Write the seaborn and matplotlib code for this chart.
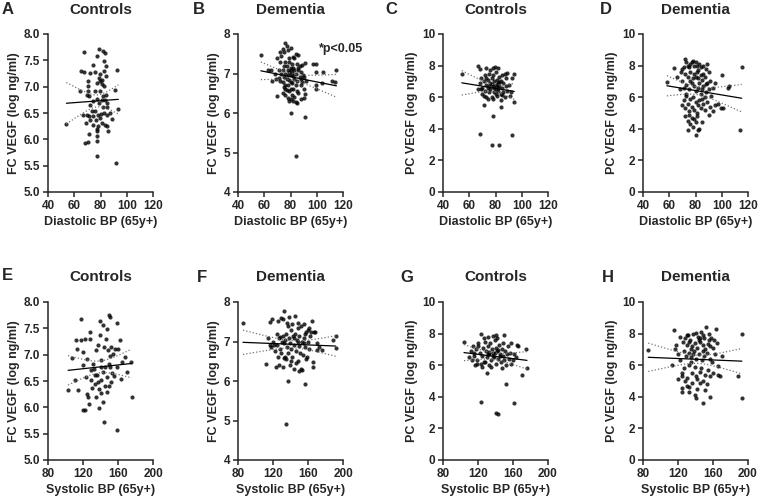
import numpy as np
import seaborn as sns
import matplotlib.pyplot as plt

# ---- data: (BP, log VEGF) pairs ----
# A: controls, diastolic vs FC VEGF
ctrl_dia_fc = [(67.6, 7.66), (78.8, 7.72), (81.6, 7.67), (83.4, 7.64), (77.0, 7.58), (82.4, 7.48),
               (74.0, 7.42), (84.2, 7.39), (92.9, 7.32), (65.5, 7.29), (67.6, 7.28), (71.9, 7.26),
               (75.8, 7.27), (79.6, 7.25), (83.0, 7.29), (78.7, 7.16), (81.0, 7.13), (79.6, 7.10),
               (84.2, 7.20), (70.6, 7.10), (77.0, 7.07), (81.3, 7.06), (70.1, 7.02), (82.6, 7.01),
               (91.1, 6.94), (75.8, 6.91), (79.6, 6.91), (69.4, 6.85), (71.2, 6.82), (82.1, 6.83),
               (84.2, 6.85), (77.6, 6.77), (81.0, 6.75), (83.4, 6.75), (74.5, 6.72), (78.8, 6.69),
               (85.2, 6.69), (71.9, 6.66), (84.7, 6.61), (82.1, 6.61), (93.6, 6.58), (66.8, 6.47),
               (69.9, 6.47), (73.2, 6.53), (75.8, 6.54), (77.8, 6.47), (80.1, 6.48), (82.6, 6.50),
               (84.7, 6.47), (71.2, 6.44), (74.5, 6.44), (79.6, 6.41), (76.5, 6.37), (87.3, 6.50),
               (88.8, 6.39), (71.9, 6.36), (68.7, 6.31), (54.0, 6.30), (74.0, 6.28), (78.3, 6.25),
               (81.0, 6.31), (83.4, 6.28), (84.7, 6.25), (85.5, 6.16), (77.6, 6.20), (70.9, 6.11),
               (77.6, 6.15), (77.6, 6.06), (77.6, 5.96), (68.1, 5.93), (70.1, 5.94), (77.0, 5.69),
               (91.6, 5.55), (70.6, 6.92), (64.3, 6.92)]

# B: dementia, diastolic vs FC VEGF
dem_dia_fc = [(57.4, 7.46), (80, 6.0), (91, 5.9), (84, 4.92), (99.5, 7.24), (97.5, 7.24), (105, 7.03),
              (99.5, 7.03), (104, 6.75), (99.5, 6.71), (99.5, 6.62), (111.5, 6.8), (115, 7.1),
              (114, 6.78), (91, 6.47), (91, 7.27), (89.8, 6.97), (88.5, 6.78),
              (74, 7.62), (76, 7.78), (77, 7.7), (75, 7.55), (78, 7.6), (80, 7.65), (73, 7.45), (82, 7.42),
              (84, 7.5), (86, 7.48), (83, 7.38), (70, 7.38), (72, 7.3), (76, 7.3), (79, 7.28), (81, 7.25),
              (85, 7.25), (87, 7.2), (89, 7.22), (75, 7.2), (77, 7.18), (80, 7.15), (82, 7.13), (78, 7.1),
              (80, 7.1), (83, 7.08), (86, 7.1), (88, 7.05), (74, 7.1), (71, 7.08), (79, 7.05), (81, 7.02),
              (84, 7.0), (76, 7.0), (73, 6.98), (78, 6.96), (80, 6.95), (82, 6.93), (87, 6.92), (90, 6.9),
              (75, 6.9), (71, 6.88), (69, 6.85), (77, 6.85), (79, 6.83), (83, 6.85), (85, 6.82), (72, 6.8),
              (74, 6.78), (80, 6.78), (81, 6.75), (76, 6.72), (78, 6.7), (84, 6.72), (88, 6.7), (75, 6.65),
              (80, 6.62), (82, 6.6), (77, 6.58), (79, 6.55), (85, 6.55), (86, 6.5), (74, 6.5), (76, 6.45),
              (81, 6.45), (83, 6.4), (78, 6.38), (80, 6.35), (82, 6.3), (84, 6.28), (85, 6.25), (79, 6.3),
              (70, 6.42), (88, 6.35), (90, 6.38), (76, 6.6), (92, 6.8), (68, 7.0), (66, 6.82), (63, 7.1),
              (65, 7.1), (72, 7.55), (79, 7.4), (86, 7.15), (88, 6.85), (90, 6.6)]

# C: controls, diastolic vs PC VEGF
ctrl_dia_pc = [(54.3, 7.44), (66.6, 7.95), (68.1, 7.76), (72.7, 7.86), (78.2, 7.82), (79.5, 7.89),
               (82, 7.85), (88.5, 7.55), (94.1, 7.5), (92.3, 7.23), (68.1, 3.7), (77.3, 2.96), (82.4, 3.0),
               (92.3, 3.6), (78.2, 4.82), (94.3, 5.67), (71.2, 5.5), (83.9, 5.41),
               (67, 6.5), (68, 6.9), (69, 7.2), (70, 6.6), (70, 6.2), (71, 7.0), (72, 6.4), (72, 7.4), (73, 6.8),
               (73, 6.0), (74, 6.6), (74, 7.1), (75, 6.3), (75, 7.5), (76, 6.9), (76, 6.5), (77, 7.2), (77, 6.0),
               (78, 6.7), (78, 7.4), (79, 6.3), (79, 7.0), (80, 6.8), (80, 6.5), (80, 7.6), (81, 6.1), (81, 7.1),
               (82, 6.9), (82, 6.4), (83, 7.3), (83, 6.7), (84, 6.2), (84, 7.0), (85, 6.6), (85, 7.4), (86, 6.3),
               (86, 6.9), (87, 6.0), (88, 6.7), (88, 7.2), (89, 6.4), (90, 6.8), (91, 6.1), (92, 6.3), (76, 7.7),
               (78, 5.9), (80, 6.2), (82, 6.6), (74, 5.9), (71, 6.1), (84, 5.8), (79, 6.6), (81, 6.75),
               (77, 6.85), (83, 6.95), (75, 6.7), (85, 6.15), (87, 7.5), (69, 6.5), (73, 7.2)]

# D: dementia, diastolic vs PC VEGF
dem_dia_pc = [(58.2, 6.98), (63.7, 7.86), (115.2, 7.9), (114.2, 3.95), (100.4, 7.4), (104.9, 6.6),
              (105.6, 6.7), (99.8, 5.33), (101, 5.33),
              (72, 8.4), (73, 8.2), (75, 7.9), (76, 8.1), (78, 8.3), (80, 8.2), (81, 8.0), (82, 7.7), (83, 8.1),
              (84, 7.9), (86, 8.0), (88, 7.8), (90, 7.6), (72, 7.5), (74, 7.3), (76, 7.6), (78, 7.2), (79, 7.5),
              (80, 7.3), (81, 7.6), (82, 7.2), (84, 7.4), (85, 7.1), (87, 7.3), (89, 6.9), (91, 7.0), (70, 7.0),
              (71, 6.6), (73, 6.8), (75, 6.5), (77, 6.9), (79, 6.7), (80, 6.4), (82, 6.6), (83, 6.9), (85, 6.5),
              (86, 6.7), (88, 6.3), (90, 6.5), (92, 6.1), (70, 5.5), (71, 5.8), (72, 5.3), (73, 6.1), (74, 5.6),
              (75, 5.1), (76, 5.9), (77, 5.4), (78, 6.0), (79, 5.2), (80, 5.7), (81, 5.0), (82, 5.5), (83, 5.8),
              (84, 5.3), (85, 5.9), (86, 5.6), (87, 5.2), (89, 5.7), (91, 5.4), (93, 5.1), (72, 4.8), (74, 4.5),
              (75, 4.9), (76, 4.3), (77, 4.7), (78, 4.1), (79, 4.6), (80, 4.4), (81, 4.8), (83, 4.0), (85, 4.4),
              (74, 3.9), (80, 3.6), (82, 3.9), (84, 6.2), (87, 6.0), (95, 5.5), (93, 6.6), (89, 8.1),
              (77, 8.25), (79, 7.95), (86, 7.45), (88, 6.85), (73, 6.2), (95, 6.9), (97, 5.6), (90, 4.9),
              (68, 6.5), (70, 7.8), (66, 7.3), (69, 7.6), (71, 7.9), (74, 8.0), (76, 7.0)]

# E: controls, systolic vs FC VEGF
ctrl_sys_fc = [(103, 6.32), (107.9, 6.93), (110.6, 6.51), (111.7, 7.28), (113.2, 7.11), (114.4, 6.32),
               (118.2, 7.27), (120.1, 7.05), (120.1, 6.80), (122, 7.30), (123.2, 6.57), (120.1, 5.95),
               (122, 5.94), (124.7, 6.92), (124.7, 6.26), (125.8, 6.19), (126.6, 6.07), (127.8, 7.43),
               (128.5, 7.29), (129.7, 6.70), (129.7, 6.51), (130.8, 6.37), (131.6, 6.83), (132.3, 6.73),
               (133.5, 6.61), (133.5, 6.45), (134.6, 6.19), (135.4, 7.08), (136.2, 6.61), (137.3, 7.18),
               (137.3, 6.48), (138.5, 6.35), (138.5, 5.99), (139.2, 7.37), (140, 6.77), (140.4, 6.51),
               (141.1, 6.89), (141.1, 6.27), (142.3, 6.10), (143, 6.67), (143.8, 7.15), (143.8, 5.72),
               (145, 6.77), (145, 6.41), (146.1, 7.30), (146.9, 6.29), (147.6, 6.57), (148.8, 7.08),
               (149.5, 6.83), (149.9, 6.41), (150.7, 6.97), (151.4, 6.77), (151.8, 6.48), (152.5, 7.15),
               (153.7, 6.65), (154.5, 7.02), (155.2, 6.60), (156.4, 7.11), (158.3, 6.76), (160.2, 7.11),
               (162.2, 7.27), (163, 6.54), (164.1, 6.86), (159, 5.57), (168, 6.95), (169.8, 6.67),
               (174.4, 6.86), (175.5, 6.19), (117.4, 7.68), (139.2, 7.63), (150.7, 7.71), (149.9, 7.75),
               (158.3, 7.60), (143, 7.56), (147.6, 7.49)]

# F: dementia, systolic vs FC VEGF
dem_sys_fc = [(85.7, 7.47), (134.6, 4.92), (137.3, 6.0), (156.4, 5.92), (112.5, 6.43), (188.9, 7.05),
              (191.6, 7.13), (191.6, 6.84), (176, 6.79), (169.8, 6.79), (166.7, 7.24), (164, 7.53),
              (165.2, 6.36), (166, 6.47),
              (117, 7.5), (119, 7.57), (126, 7.52), (129, 7.6), (131, 7.58), (133, 7.78), (136, 7.48),
              (138, 7.62), (142, 7.44), (145, 7.65), (149, 7.48), (152, 7.38), (155, 7.45), (158, 7.25),
              (160, 7.3), (163, 7.25), (168, 7.25), (114, 7.1), (116, 6.9), (118, 6.85), (120, 7.0),
              (121, 6.92), (124, 7.2), (125, 6.9), (127, 7.1), (128, 6.8), (129, 6.72), (130, 7.0),
              (131, 7.15), (132, 6.58), (133, 6.95), (134, 7.05), (135, 7.2), (136, 6.85), (137, 6.7),
              (138, 7.1), (139, 6.95), (140, 7.3), (141, 6.8), (142, 6.6), (143, 7.15), (144, 6.9),
              (145, 7.2), (146, 6.75), (147, 7.05), (148, 6.5), (149, 6.98), (150, 7.15), (151, 6.7),
              (152, 6.3), (153, 7.0), (154, 6.65), (155, 7.1), (156, 6.85), (157, 7.2), (158, 6.55),
              (160, 7.0), (161, 6.8), (162, 7.15), (123, 6.35), (127, 6.4), (131, 6.35), (135, 6.55),
              (139, 6.4), (144, 6.3), (150, 6.25), (153, 6.28), (159, 6.6), (140, 6.5), (146, 6.45),
              (126, 6.6), (122, 6.75), (134, 6.6), (148, 7.35), (137, 7.38), (128, 7.12), (144, 7.1),
              (150, 6.88), (155, 6.95), (161, 7.35), (170, 6.95), (172, 6.85)]

# G: controls, systolic vs PC VEGF
ctrl_sys_pc = [(104, 7.44), (123, 7.95), (127, 7.75), (131, 7.78), (137, 7.85), (140, 7.88), (150, 7.88),
               (158, 7.4), (166, 7.2), (175, 7.0), (123, 3.7), (140, 2.98), (143, 2.92), (161, 3.58),
               (152, 4.8), (176, 5.85), (130, 5.5), (170, 5.4),
               (110, 6.5), (112, 6.9), (114, 7.2), (115, 6.6), (116, 6.0), (118, 7.0), (119, 6.3), (120, 7.4),
               (122, 6.8), (123, 6.1), (124, 6.6), (126, 7.1), (127, 6.2), (128, 7.5), (129, 6.9), (130, 6.5),
               (131, 7.2), (132, 6.0), (133, 6.7), (134, 7.4), (135, 6.3), (136, 7.0), (137, 6.8), (138, 6.5),
               (139, 7.6), (140, 6.1), (141, 7.1), (142, 6.9), (143, 6.4), (144, 7.3), (145, 6.7), (146, 6.2),
               (147, 7.0), (148, 6.6), (149, 7.4), (150, 6.3), (151, 6.9), (152, 6.0), (153, 6.7), (154, 7.2),
               (155, 6.4), (157, 6.8), (158, 6.1), (160, 6.3), (142, 7.7), (135, 5.9), (128, 6.2), (145, 6.6),
               (125, 5.9), (119, 6.1), (147, 5.8), (137, 6.6), (139, 6.75), (133, 6.85), (143, 6.95),
               (131, 6.7), (163, 6.5), (165, 7.3), (115, 6.8), (120, 7.2), (113, 6.3), (161, 6.7)]

# H: dementia, systolic vs PC VEGF
dem_sys_pc = [(86, 6.95), (193, 7.95), (193, 3.95), (188, 5.3), (170, 6.6), (168, 5.3), (166, 5.35),
              (166, 5.95), (115, 8.2), (118, 7.3), (117, 7.0), (113, 6.0), (120, 5.1), (125, 4.3), (125, 4.55),
              (122, 7.8), (128, 7.7), (131, 7.9), (134, 7.6), (137, 8.0), (140, 8.05), (143, 7.8), (146, 8.1),
              (149, 7.9), (152, 8.4), (155, 8.0), (158, 7.7), (163, 8.3), (130, 7.3), (133, 7.5), (136, 7.2),
              (139, 7.4), (142, 7.1), (145, 7.45), (148, 7.3), (151, 7.0), (154, 7.35), (157, 7.2), (160, 7.1),
              (127, 6.9), (129, 6.6), (132, 6.8), (135, 6.5), (138, 6.9), (141, 6.4), (144, 6.7), (147, 6.3),
              (150, 6.6), (153, 6.8), (156, 6.4), (159, 6.2), (162, 6.7), (124, 5.5), (127, 5.8), (130, 5.2),
              (133, 6.0), (136, 5.5), (139, 5.9), (142, 5.1), (145, 5.6), (148, 5.0), (151, 5.4), (154, 5.7),
              (157, 5.3), (160, 5.5), (130, 4.7), (133, 4.6), (136, 4.9), (139, 4.1), (142, 4.5), (145, 4.9),
              (148, 3.6), (151, 4.4), (156, 4.0), (140, 3.9), (125, 5.3), (135, 6.2), (148, 6.9), (122, 6.3),
              (144, 7.6), (132, 4.3), (128, 5.0), (161, 7.6), (146, 5.8), (150, 7.7), (137, 6.7), (153, 4.8),
              (165, 7.4), (141, 5.3), (126, 7.5), (130, 7.9), (145, 7.75), (155, 7.6), (120, 6.7), (135, 7.05)]

letters = ["A", "B", "C", "D", "E", "F", "G", "H"]
groups = ["Controls", "Dementia", "Controls", "Dementia"] * 2
xlabels = ["Diastolic BP (65y+)"] * 4 + ["Systolic BP (65y+)"] * 4
ylabels = ["FC VEGF (log ng/ml)", "FC VEGF (log ng/ml)", "PC VEGF (log ng/ml)", "PC VEGF (log ng/ml)"] * 2
panels = [ctrl_dia_fc, dem_dia_fc, ctrl_dia_pc, dem_dia_pc,
          ctrl_sys_fc, dem_sys_fc, ctrl_sys_pc, dem_sys_pc]
xlims = [(40, 120)] * 4 + [(80, 200)] * 4
xticks = [[40, 60, 80, 100, 120]] * 4 + [[80, 120, 160, 200]] * 4
ylims = [(5, 8), (4, 8), (0, 10), (0, 10)] * 2
yticks = [[5.0, 5.5, 6.0, 6.5, 7.0, 7.5, 8.0], [4, 5, 6, 7, 8], [0, 2, 4, 6, 8, 10], [0, 2, 4, 6, 8, 10]] * 2

#%%
sns.set_style("ticks")
plt.rcParams['font.family'] = ['Liberation Sans', 'DejaVu Sans']
plt.rcParams['font.weight'] = 'bold'

W, H = 760, 501
fig = plt.figure(figsize=(W / 100, H / 100), dpi=100)

lefts = [48, 238, 443, 643]
tops = [34, 302]
aw, ah = 105, 158
letter_pos = [(2, 9), (193, 9), (385, 9), (600, 9), (2, 275), (197, 277), (400, 277), (602, 277)]

for i, pts in enumerate(panels):
    r, c = divmod(i, 4)
    ax = fig.add_axes([lefts[c] / W, 1 - (tops[r] + ah) / H, aw / W, ah / H])
    x = np.array([p[0] for p in pts], dtype=float)
    y = np.array([p[1] for p in pts], dtype=float)

    sns.regplot(x=x, y=y, ax=ax, ci=None, color='black',
                scatter_kws={'s': 9, 'linewidths': 0},
                line_kws={'lw': 0.9})

    # 95% confidence band of the fit, drawn as dotted lines
    n = len(x)
    b, a = np.polyfit(x, y, 1)
    resid = y - (a + b * x)
    s = np.sqrt(np.sum(resid ** 2) / (n - 2))
    xs = np.linspace(x.min(), x.max(), 100)
    se = s * np.sqrt(1 / n + (xs - x.mean()) ** 2 / np.sum((x - x.mean()) ** 2))
    yfit = a + b * xs
    ax.plot(xs, yfit + 1.98 * se, ls=':', color='0.45', lw=0.9)
    ax.plot(xs, yfit - 1.98 * se, ls=':', color='0.45', lw=0.9)

    ax.set_xlim(*xlims[i])
    ax.set_ylim(*ylims[i])
    ax.set_xticks(xticks[i])
    ax.set_yticks(yticks[i])
    if i in (0, 4):
        ax.set_yticklabels([f"{v:.1f}" for v in yticks[i]])
    ax.set_xlabel(xlabels[i], fontsize=9, fontweight='bold', labelpad=3)
    ax.set_ylabel(ylabels[i], fontsize=9, fontweight='bold', labelpad=3)
    ax.tick_params(direction='out', length=3.5, width=1.1, labelsize=8.5, pad=2)
    for t in ax.get_xticklabels() + ax.get_yticklabels():
        t.set_fontweight('bold')
    sns.despine(ax=ax)
    for sp in ('left', 'bottom'):
        ax.spines[sp].set_linewidth(1.1)

    cx = (lefts[c] + aw / 2) / W
    ty = 10 if r == 0 else 277
    fig.text(cx, 1 - ty / H, groups[i], ha='center', va='center', fontsize=11, fontweight='bold')
    lx, ly = letter_pos[i]
    fig.text(lx / W, 1 - ly / H, letters[i], ha='left', va='center', fontsize=12, fontweight='bold')

    if i == 1:
        ax.text(102, 7.63, "*p<0.05", fontsize=9, fontweight='bold', va='center')

fig.savefig("out.png", dpi=100)
